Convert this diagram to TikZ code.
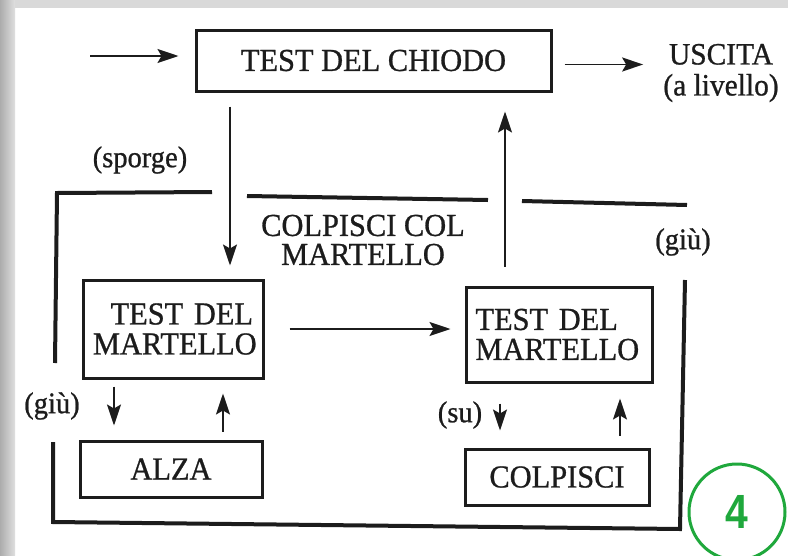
\documentclass[tikz,border=0pt]{standalone}
\usepackage{fontspec}
\setmainfont{Liberation Serif}[FakeStretch=0.95,FakeBold=0.8]
\newfontfamily\digitfont{Liberation Sans}[FakeStretch=0.85]
\usetikzlibrary{arrows.meta,calc}
\definecolor{ink}{HTML}{1C1C1C}
\definecolor{ringgreen}{HTML}{1FA83C}
\begin{document}
\begin{tikzpicture}[x=1pt,y=-1pt,
  box/.style={draw=ink, line width=3pt, inner sep=0pt, text=ink,
    font=\fontsize{32}{30}\selectfont},
  arr/.style={draw=ink, line width=1.8pt,
    -{Stealth[length=21pt,width=14pt,inset=4pt]}},
  framepart/.style={draw=ink, line width=4pt, line join=miter},
  lbl/.style={font=\fontsize{30}{28}\selectfont, text=ink, inner sep=0pt},
]
\useasboundingbox (0,0) rectangle (788,555);
\fill[white] (0,0) rectangle (788,555);
\shade[left color=gray!65, right color=gray!25] (0,0) rectangle (15,555);
\fill[gray!30] (15,0) rectangle (788,8);

% boxes
\node[box, minimum width=355pt, minimum height=61pt] (chiodo) at (373.5,60.5) {TEST DEL CHIODO};
\node[box, minimum width=180pt, minimum height=98pt, text width=160pt, align=right] (tdmL) at (173,329) {TEST DEL\\MARTELLO};
\node[box, minimum width=186pt, minimum height=95pt, text width=167pt, align=left] (tdmR) at (559,334.5) {TEST DEL\\MARTELLO};
\node[box, minimum width=182pt, minimum height=56pt] (alza) at (171,469) {ALZA};
\node[box, minimum width=184pt, minimum height=56pt] (colp) at (557,477) {COLPISCI};

% labels
\node[lbl, align=center, font=\fontsize{31}{31}\selectfont] (uscita) at (721,73) {USCITA\\(a livello)};
\node[lbl] (sporge) at (140,160) {(sporge)};
\node[lbl, align=center, font=\fontsize{32}{29}\selectfont] (colpcol) at (363,240) {COLPISCI COL\\MARTELLO};
\node[lbl] (giuR) at (683,242) {(giù)};
\node[lbl] (giuL) at (52,406) {(giù)};
\node[lbl] (su) at (460,415) {(su)};

% frame
\draw[framepart] (212,192) -- (57,193) -- (55,363);
\draw[framepart] (247,196) -- (488,200);
\draw[framepart] (522,201) -- (687,205);
\draw[framepart] (53,442) -- (53,522) -- (680,529) -- (685,280);

% arrows
\coordinate (inS) at (90,56);
\draw[arr, shorten >=16pt] (inS) -- (inS -| chiodo.west);
\draw[arr, shorten <=12pt, shorten >=20pt] ([yshift=-4pt]chiodo.east) -- ([yshift=-4pt]chiodo.east -| uscita.west);
\coordinate (dx) at (230,0);
\draw[arr, shorten <=14pt, shorten >=13pt] (dx |- chiodo.south) -- (dx |- tdmL.north);
\coordinate (ux) at (505,0);
\draw[arr, shorten <=19pt, shorten >=19pt] (ux |- tdmR.north) -- (ux |- chiodo.south);
\draw[arr, shorten <=25pt, shorten >=14pt] (tdmL.east) -- (tdmL.east -| tdmR.west);
\coordinate (ldx) at (114,0);
\draw[arr, shorten <=7pt, shorten >=14pt] (ldx |- tdmL.south) -- (ldx |- alza.north);
\coordinate (lux) at (223,0);
\draw[arr, shorten <=8pt, shorten >=14pt] (lux |- alza.north) -- (lux |- tdmL.south);
\coordinate (rdx) at (500,0);
\draw[arr, shorten <=20pt, shorten >=17pt] (rdx |- tdmR.south) -- (rdx |- colp.north);
\coordinate (rux) at (620,0);
\draw[arr, shorten <=12pt, shorten >=15pt] (rux |- colp.north) -- (rux |- tdmR.south);

% green badge
\node[draw=ringgreen, line width=3pt, circle, minimum size=96pt, inner sep=0pt,
  text=ringgreen, font=\digitfont\bfseries\fontsize{48}{48}\selectfont] (four) at (737,512) {4};
\end{tikzpicture}
\end{document}
